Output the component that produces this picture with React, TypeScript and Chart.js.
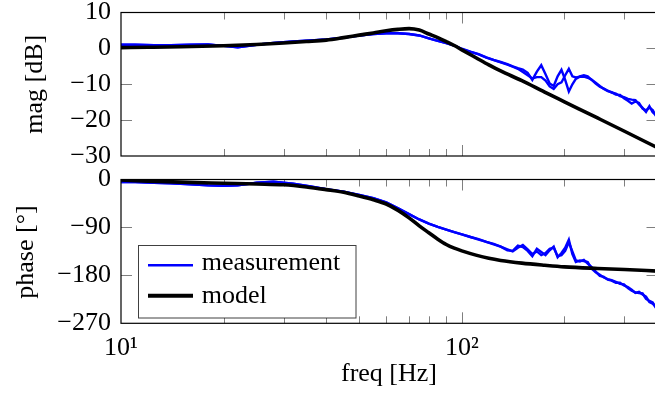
import React, { useEffect, useRef } from 'react';
import { Chart, registerables } from 'chart.js';

Chart.register(...registerables);

// ---------- data ----------
const measFreq = [10, 11, 12.5, 14, 16, 18, 20, 22, 25, 28, 32, 36, 40, 45, 50, 55, 60, 65, 70, 75, 80, 85, 90, 95, 100, 106, 112, 118, 124, 130, 136, 141, 146, 151, 156, 161, 166, 171, 176, 181, 186, 191, 196, 201, 206, 211, 216, 222, 228, 234, 240, 247, 254, 261, 268, 275, 283, 291, 299, 307, 315, 323, 331, 339, 347, 355, 363, 371, 378];
const magMeasA = [1.0, 1.0, 0.9, 0.9, 1.0, 1.1, 0.7, 0.3, 1.0, 1.5, 1.9, 2.2, 2.5, 3.0, 3.6, 4.0, 4.2, 4.2, 4.0, 3.6, 2.8, 2.1, 1.5, 0.8, -0.1, -0.9, -1.6, -2.5, -3.2, -3.8, -4.4, -5.0, -5.5, -5.9, -6.8, -8.8, -6.5, -4.7, -7.2, -9.8, -10.5, -7.8, -6.0, -8.8, -12.0, -10.0, -8.5, -7.8, -7.5, -7.8, -8.7, -9.8, -10.7, -11.2, -11.8, -12.3, -12.6, -13.3, -13.6, -14.1, -14.3, -14.4, -15.6, -16.6, -17.7, -16.1, -17.8, -18.6, -19.0];
const magMeasB = [1.0, 1.0, 0.9, 0.9, 1.0, 1.1, 0.7, 0.3, 1.0, 1.5, 1.9, 2.2, 2.5, 3.0, 3.6, 4.0, 4.2, 4.2, 4.0, 3.6, 2.8, 2.1, 1.5, 0.8, -0.2, -1.0, -1.7, -2.6, -3.3, -3.9, -4.5, -5.1, -5.7, -6.6, -7.5, -8.4, -8.0, -8.0, -9.0, -10.6, -11.3, -10.0, -9.5, -7.5, -5.7, -7.8, -8.1, -7.9, -7.9, -8.2, -8.7, -9.6, -10.5, -11.3, -11.9, -12.2, -12.9, -13.0, -13.9, -14.6, -15.4, -14.8, -15.2, -16.8, -17.3, -16.5, -17.2, -18.8, -19.3];
const phaseMeasA = [-5, -5, -6, -7, -9, -11, -12, -11, -6, -4, -8, -13, -18, -23, -29, -35, -43, -54, -65, -75, -83, -89, -94, -99, -103, -108, -112, -117, -121, -126, -133, -134, -124, -127, -134, -144, -130, -136, -142, -133, -126, -146, -138, -128, -113, -140, -155, -152, -153, -155, -167, -174, -179, -184, -187, -189, -192, -196, -197, -204, -209, -212, -213, -214, -224, -228, -231, -241, -244];
const phaseMeasB = [-5, -5, -6, -7, -9, -11, -12, -11, -6, -4, -8, -13, -18, -23, -29, -35, -43, -54, -65, -75, -83, -89, -94, -99, -103, -108, -113, -117, -122, -126, -131, -135, -128, -123, -131, -140, -135, -142, -138, -130, -128, -144, -142, -134, -118, -135, -152, -154, -151, -158, -164, -173, -181, -183, -188, -190, -194, -194, -199, -202, -207, -213, -211, -216, -220, -230, -233, -239, -246];

const modelFreq = [10, 12, 15, 20, 25, 30, 35, 40, 45, 50, 55, 60, 65, 70, 75, 80, 85, 90, 95, 100, 110, 120, 130, 150, 175, 200, 250, 300, 375];
const magModel = [0.2, 0.3, 0.45, 0.75, 1.1, 1.5, 1.9, 2.3, 3.0, 3.7, 4.3, 4.9, 5.3, 5.5, 5.1, 4.0, 3.0, 1.9, 0.8, -0.4, -2.6, -4.6, -6.3, -9.0, -12.2, -14.9, -19.4, -23.1, -27.7];
const phaseModel = [-1, -3, -5, -7, -8.5, -10, -14, -19, -24, -31, -38, -46, -58, -72, -87, -100, -112, -122, -129, -134, -142, -148, -152, -157, -161, -164, -167, -169, -172];

const magTicks = [10, 0, -10, -20, -30];
const phaseTicks = [0, -90, -180, -270];
const xMajorTicks = [10, 100];
const xMajorLabels = ['10\u00B9', '10\u00B2'];
const xMinorTicks = [20, 30, 40, 50, 60, 70, 80, 90, 200, 300];
const xMin = 10;
const xMax = 375;

const seriesLabels = ['measurement', 'model'];
const axisTitles = { mag: 'mag [dB]', phase: 'phase [\u00B0]', freq: 'freq [Hz]' };

// ---------- styling ----------
const FONT = "'Liberation Serif', 'Times New Roman', serif";
const BLUE = '#0000ff';
const BLACK = '#000000';

const pts = (xs: number[], ys: number[]) => xs.map((x, i) => ({ x, y: ys[i] }));
const fmt = (v: number) => (v < 0 ? '\u2212' + Math.abs(v) : String(v));

function fixScale(w?: number, h?: number) {
  return (s: any) => {
    if (w !== undefined) s.width = w;
    if (h !== undefined) s.height = h;
    s.paddingLeft = 0;
    s.paddingRight = 0;
    s.paddingTop = 0;
    s.paddingBottom = 0;
  };
}

const framePlugin = {
  id: 'frameTicks',
  beforeDatasetsDraw(chart: any) {
    const { ctx, chartArea: a, scales } = chart;
    const xs = scales.x;
    const ys = scales.y;
    ctx.save();
    ctx.strokeStyle = 'rgba(0,0,0,0.5)';
    ctx.lineWidth = 1;
    ctx.beginPath();
    const drawX = (v: number, len: number) => {
      const px = Math.round(xs.getPixelForValue(v)) + 0.5;
      ctx.moveTo(px, a.top);
      ctx.lineTo(px, a.top + len);
      ctx.moveTo(px, a.bottom);
      ctx.lineTo(px, a.bottom - len);
    };
    xMinorTicks.forEach((v) => drawX(v, 7));
    xMajorTicks.forEach((v) => { if (v > xMin && v < xMax) drawX(v, 11); });
    ys.ticks.forEach((t: any) => {
      if (t.value <= ys.min || t.value >= ys.max) return;
      const py = Math.round(ys.getPixelForValue(t.value)) + 0.5;
      ctx.moveTo(a.left, py);
      ctx.lineTo(a.left + 11, py);
      ctx.moveTo(a.right, py);
      ctx.lineTo(a.right - 11, py);
    });
    ctx.stroke();
    ctx.restore();
  },
  afterDatasetsDraw(chart: any) {
    const { ctx, chartArea: a } = chart;
    ctx.save();
    ctx.strokeStyle = BLACK;
    ctx.lineWidth = 1.2;
    ctx.strokeRect(a.left, a.top, a.right - a.left, a.bottom - a.top);
    ctx.restore();
  },
};

function titlePlugin(texts: { text: string; x: number; y: number; rotate: boolean }[]) {
  return {
    id: 'titles',
    afterDraw(chart: any) {
      const ctx = chart.ctx;
      ctx.save();
      ctx.fillStyle = BLACK;
      ctx.font = `26px ${FONT}`;
      ctx.textAlign = 'center';
      ctx.textBaseline = 'alphabetic';
      texts.forEach((t) => {
        ctx.save();
        ctx.translate(t.x, t.y);
        if (t.rotate) ctx.rotate(-Math.PI / 2);
        ctx.fillText(t.text, 0, 0);
        ctx.restore();
      });
      ctx.restore();
    },
  };
}

const legendPlugin = {
  id: 'boxLegend',
  afterDraw(chart: any) {
    const ctx = chart.ctx;
    ctx.save();
    ctx.fillStyle = '#ffffff';
    ctx.fillRect(138.5, 85.5, 217.5, 72.5);
    ctx.strokeStyle = 'rgba(0,0,0,0.75)';
    ctx.lineWidth = 1;
    ctx.strokeRect(138.5, 85.5, 217.5, 72.5);
    ctx.lineCap = 'butt';
    ctx.strokeStyle = BLUE;
    ctx.lineWidth = 2.4;
    ctx.beginPath();
    ctx.moveTo(148, 105.3);
    ctx.lineTo(193, 105.3);
    ctx.stroke();
    ctx.strokeStyle = BLACK;
    ctx.lineWidth = 4;
    ctx.beginPath();
    ctx.moveTo(148, 135.7);
    ctx.lineTo(193, 135.7);
    ctx.stroke();
    ctx.fillStyle = BLACK;
    ctx.font = `26px ${FONT}`;
    ctx.textAlign = 'left';
    ctx.textBaseline = 'alphabetic';
    ctx.fillText(seriesLabels[0], 201.7, 109.7);
    ctx.fillText(seriesLabels[1], 201.7, 143);
    ctx.restore();
  },
};

function makeDatasets(measA: number[], measB: number[], model: number[]) {
  return [
    {
      label: seriesLabels[1],
      data: pts(modelFreq, model),
      borderColor: BLACK,
      borderWidth: 3.6,
      pointRadius: 0,
      cubicInterpolationMode: 'monotone' as const,
      fill: false,
    },
    {
      label: seriesLabels[0],
      data: pts(measFreq, measA),
      borderColor: BLUE,
      borderWidth: 2.4,
      pointRadius: 0,
      tension: 0,
      fill: false,
    },
    {
      label: seriesLabels[0],
      data: pts(measFreq, measB),
      borderColor: BLUE,
      borderWidth: 2.4,
      pointRadius: 0,
      tension: 0,
      fill: false,
    },
  ];
}

function makeConfig(opts: {
  measA: number[];
  measB: number[];
  model: number[];
  yTicks: number[];
  padTop: number;
  xHeight: number;
  showXLabels: boolean;
  plugins: any[];
}): any {
  const yMin = Math.min(...opts.yTicks);
  const yMax = Math.max(...opts.yTicks);
  return {
    type: 'line',
    data: { datasets: makeDatasets(opts.measA, opts.measB, opts.model) },
    options: {
      animation: false,
      responsive: false,
      devicePixelRatio: 1,
      events: [],
      layout: { padding: { left: 0, right: 12.5, top: opts.padTop, bottom: 0 } },
      plugins: { legend: { display: false }, tooltip: { enabled: false }, title: { display: false } },
      scales: {
        x: {
          type: 'logarithmic',
          min: xMin,
          max: xMax,
          grid: { display: false, drawTicks: false },
          border: { display: false },
          afterBuildTicks: (s: any) => {
            s.ticks = xMajorTicks.map((v) => ({ value: v }));
          },
          ticks: {
            display: opts.showXLabels,
            autoSkip: false,
            maxRotation: 0,
            padding: 9,
            color: BLACK,
            font: { family: FONT, size: 26 },
            callback: (v: any) => {
              const i = xMajorTicks.indexOf(Number(v));
              return i >= 0 ? xMajorLabels[i] : '';
            },
          },
          afterFit: fixScale(undefined, opts.xHeight),
        },
        y: {
          type: 'linear',
          min: yMin,
          max: yMax,
          grid: { display: false, drawTicks: false },
          border: { display: false },
          afterBuildTicks: (s: any) => {
            s.ticks = opts.yTicks.map((v) => ({ value: v }));
          },
          ticks: {
            padding: 10,
            color: BLACK,
            font: { family: FONT, size: 26 },
            callback: (v: any) => fmt(Number(v)),
          },
          afterFit: fixScale(121, undefined),
        },
      },
    },
    plugins: [framePlugin, ...opts.plugins],
  };
}

export default function App() {
  const topRef = useRef<HTMLCanvasElement>(null);
  const botRef = useRef<HTMLCanvasElement>(null);

  useEffect(() => {
    const top = new Chart(
      topRef.current as HTMLCanvasElement,
      makeConfig({
        measA: magMeasA,
        measB: magMeasB,
        model: magModel,
        yTicks: magTicks,
        padTop: 12.5,
        xHeight: 24,
        showXLabels: false,
        plugins: [titlePlugin([{ text: axisTitles.mag, x: 41.5, y: 84.3, rotate: true }])],
      })
    );
    const bot = new Chart(
      botRef.current as HTMLCanvasElement,
      makeConfig({
        measA: phaseMeasA,
        measB: phaseMeasB,
        model: phaseModel,
        yTicks: phaseTicks,
        padTop: 19.5,
        xHeight: 78.7,
        showXLabels: true,
        plugins: [
          titlePlugin([
            { text: axisTitles.phase, x: 32.5, y: 92, rotate: true },
            { text: axisTitles.freq, x: 389, y: 220.5, rotate: false },
          ]),
          legendPlugin,
        ],
      })
    );
    return () => {
      top.destroy();
      bot.destroy();
    };
  }, []);

  return (
    <div
      style={{
        position: 'fixed',
        left: 0,
        top: 0,
        width: 655,
        height: 402,
        overflow: 'hidden',
        background: '#ffffff',
      }}
    >
      <canvas ref={topRef} width={670} height={180} style={{ position: 'absolute', left: 0, top: 0 }} />
      <canvas ref={botRef} width={670} height={242} style={{ position: 'absolute', left: 0, top: 160 }} />
    </div>
  );
}
